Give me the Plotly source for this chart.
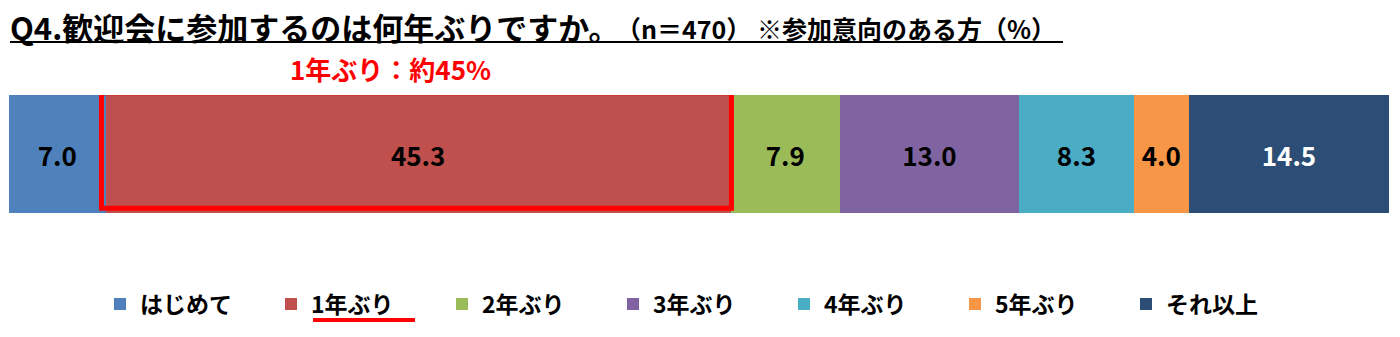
import plotly.graph_objects as go

categories = ["はじめて", "1年ぶり", "2年ぶり", "3年ぶり", "4年ぶり", "5年ぶり", "それ以上"]
values = [7.0, 45.3, 7.9, 13.0, 8.3, 4.0, 14.5]
colors = ["#4F81BD", "#C0504D", "#9BBB59", "#8064A2", "#4BACC6", "#F79646", "#2C4D75"]
label_colors = ["#000000"] * 6 + ["#FFFFFF"]
highlight = "1年ぶり"

W, H = 1400, 337
L, R, T, B = 9, 1389, 95, 213  # plot area pixels

def px_x(p):
    return (p - L) / (R - L)

def px_y(p):
    return (B - p) / (B - T)

FONT = "Noto Sans CJK JP"

fig = go.Figure()
for cat, v, c, lc in zip(categories, values, colors, label_colors):
    fig.add_trace(go.Bar(
        y=[""], x=[v], name=f"<b>{cat}</b>", orientation="h",
        marker=dict(color=c, line=dict(width=0)),
        text=[v], texttemplate="<b>%{x:.1f}</b>", textposition="inside",
        insidetextanchor="middle", textangle=0,
        textfont=dict(color=lc, size=26, family=FONT),
        width=1,
    ))

# highlight box around the highlighted segment
idx = categories.index(highlight)
x0 = sum(values[:idx])
x1 = x0 + values[idx]
fig.add_shape(type="rect", xref="x", yref="y", x0=x0 - 0.3, x1=x1 + 0.05, y0=-0.46, y1=0.52,
              line=dict(color="#FF0000", width=5), fillcolor="rgba(0,0,0,0)")

annotations = [
    dict(text='<b>Q4.歓迎会に参加するのは何年ぶりですか。</b>',
         xref="paper", yref="paper", x=px_x(8), y=px_y(26), xanchor="left", yanchor="middle",
         showarrow=False, font=dict(size=31, color="#000000", family=FONT)),
    dict(text='<b>（n＝470） ※参加意向のある方（%）</b>',
         xref="paper", yref="paper", x=px_x(614), y=px_y(28), xanchor="left", yanchor="middle",
         showarrow=False, font=dict(size=25, color="#000000", family=FONT)),
    dict(text="<b>1年ぶり：約45%</b>", xref="paper", yref="paper", x=px_x(390), y=px_y(68),
         xanchor="center", yanchor="middle", showarrow=False,
         font=dict(size=26, color="#FF0000", family=FONT)),
]

shapes_extra = [
    dict(type="line", xref="paper", yref="paper", x0=px_x(10), x1=px_x(1063), y0=px_y(42), y1=px_y(42),
         line=dict(color="#000000", width=2)),
    dict(type="line", xref="paper", yref="paper", x0=px_x(313), x1=px_x(415), y0=px_y(320), y1=px_y(320),
         line=dict(color="#FF0000", width=4)),
]
for s in shapes_extra:
    fig.add_shape(**s)

fig.update_layout(
    width=W, height=H,
    margin=dict(l=L, r=W - R, t=T, b=H - B, pad=0, autoexpand=False),
    barmode="stack",
    plot_bgcolor="white", paper_bgcolor="white",
    xaxis=dict(range=[0, sum(values)], visible=False, fixedrange=True),
    yaxis=dict(range=[-0.5, 0.5], visible=False, fixedrange=True),
    showlegend=True,
    legend=dict(orientation="h", x=px_x(100), y=px_y(304), xanchor="left", yanchor="middle",
                entrywidth=126, entrywidthmode="pixels", traceorder="normal",
                font=dict(size=23, color="#000000", family=FONT), itemwidth=30,
                bgcolor="rgba(0,0,0,0)"),
    annotations=annotations,
)

fig.write_html("out.html")
